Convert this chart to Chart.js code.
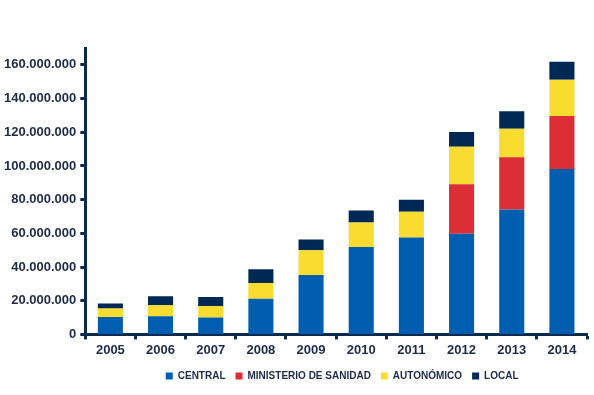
<!DOCTYPE html>
<html>
<head>
<meta charset="utf-8">
<script src="https://cdn.jsdelivr.net/npm/chart.js@4.4.1/dist/chart.umd.min.js"></script>
<style>
html, body { margin: 0; padding: 0; background: #fff; }
#wrap { width: 594px; height: 395px; }
</style>
</head>
<body>
<div id="wrap"><canvas id="gasto_chart"></canvas></div>
<script>
// valores en euros
var years = ['2005','2006','2007','2008','2009','2010','2011','2012','2013','2014'];
var central    = [10.3e6, 10.7e6, 10.1e6, 21.2e6, 35.3e6, 51.9e6, 57.5e6, 59.7e6, 74.2e6, 98.2e6];
var ministerio = [0, 0, 0, 0, 0, 0, 0, 29.4e6, 30.9e6, 31.5e6];
var autonomico = [5.0e6, 6.6e6, 6.7e6, 9.3e6, 14.7e6, 14.5e6, 15.3e6, 22.3e6, 17.0e6, 21.4e6];
var local      = [3.1e6, 5.3e6, 5.4e6, 8.2e6, 6.3e6, 7.2e6, 7.1e6, 8.8e6, 10.4e6, 10.7e6];
var yTicks     = [0, 20e6, 40e6, 60e6, 80e6, 100e6, 120e6, 140e6, 160e6];

var navy = '#0c2a4e';
var txt = '#1c2b47';

function puntos(v){
    return String(Math.round(v)).replace(/\B(?=(\d{3})+(?!\d))/g, '.');
}

// la leyenda del original va centrada bajo el area del grafico
const legendShift = {
    id: 'legendShift',
    afterLayout: function(chart){
        var lg = chart.legend;
        var ca = chart.chartArea;
        var d = (ca.left + ca.right) / 2 + 6 - (lg.left + lg.right) / 2;
        lg.left += d;
        lg.right += d;
    }
};

const dt = {
    labels: years,
    datasets: [
        { label: 'CENTRAL', data: central, backgroundColor: '#005eb0' },
        { label: 'MINISTERIO DE SANIDAD', data: ministerio, backgroundColor: '#dc2f35' },
        { label: 'AUTONÓMICO', data: autonomico, backgroundColor: '#f9dc30' },
        { label: 'LOCAL', data: local, backgroundColor: '#002855' }
    ]
};

const config_gasto = {
    type: 'bar',
    data: dt,
    plugins: [legendShift],
    options: {
        responsive: true,
        maintainAspectRatio: false,
        animation: false,
        datasets: { bar: { barPercentage: 0.5, categoryPercentage: 1.0, borderWidth: 0 } },
        layout: { padding: { left: 0, right: 7, top: 48, bottom: 4 } },
        plugins: {
            tooltip: { enabled: false },
            legend: {
                position: 'bottom',
                labels: {
                    color: txt,
                    font: { family: 'Liberation Sans', size: 10, weight: 'bold' },
                    boxWidth: 7,
                    boxHeight: 7,
                    padding: 10
                }
            }
        },
        scales: {
            x: {
                stacked: true,
                border: { color: navy, width: 3 },
                grid: { display: true, drawOnChartArea: false, drawTicks: true, tickLength: 5, tickWidth: 3, tickColor: navy },
                ticks: {
                    color: txt,
                    padding: 3,
                    font: { family: 'Liberation Sans', size: 13, weight: 'bold' }
                }
            },
            y: {
                stacked: true,
                min: 0,
                max: 170000000,
                border: { color: navy, width: 3 },
                grid: { display: true, drawOnChartArea: false, drawTicks: true, tickLength: 5, tickWidth: 3, tickColor: navy },
                afterBuildTicks: function(axis){
                    axis.ticks = yTicks.map(function(v){ return { value: v }; });
                },
                ticks: {
                    autoSkip: false,
                    color: txt,
                    padding: 4,
                    font: { family: 'Liberation Sans', size: 13, weight: 'bold' },
                    callback: function(v){ return puntos(v); }
                }
            }
        }
    }
};

const gasto_chart = new Chart(
    document.getElementById('gasto_chart'),
    config_gasto
);
</script>
</body>
</html>
